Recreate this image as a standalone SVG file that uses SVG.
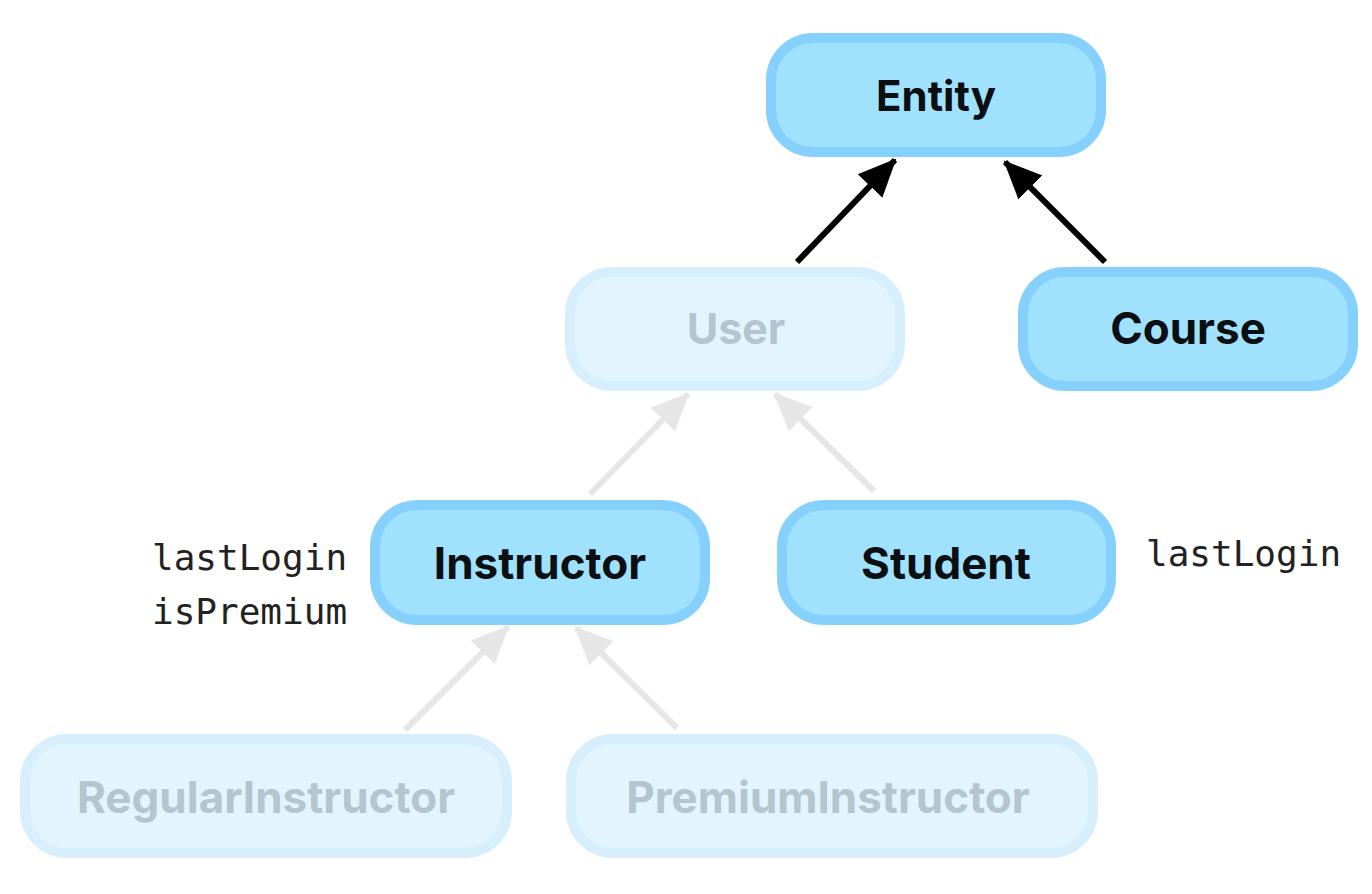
<svg xmlns="http://www.w3.org/2000/svg" width="1372" height="894" viewBox="0 0 1372 894">
<defs>
<marker id="hb" markerUnits="userSpaceOnUse" markerWidth="40" markerHeight="40" viewBox="0 0 40 40" refX="36" refY="20" orient="auto"><path d="M0,3 L38,20 L0,37 Z" fill="#000"/></marker>
<marker id="hg" markerUnits="userSpaceOnUse" markerWidth="40" markerHeight="40" viewBox="0 0 40 40" refX="36" refY="20" orient="auto"><path d="M0,3 L38,20 L0,37 Z" fill="#e6e6e6"/></marker>
</defs>
<style>
.on rect{fill:#a0e2fd;stroke:#85d0fc;stroke-width:10}
.off rect{fill:#e2f4fd;stroke:#d7effd;stroke-width:10}
.t{font-family:Inter,"Noto Sans",sans-serif;font-weight:700;text-anchor:middle;font-size:44px}
.on text{fill:#0b0f12}
.off text{fill:#b4c5d0}
.mono{font-family:"DejaVu Sans Mono","Liberation Mono",monospace;font-size:36px;fill:#222}
.cb{stroke:#000;stroke-width:6;fill:none;marker-end:url(#hb)}
.cg{stroke:#e6e6e6;stroke-width:6;fill:none;marker-end:url(#hg)}
</style>
<rect width="1372" height="894" fill="#fff"/>
<g id="connectors">
<line class="cb" x1="797" y1="262" x2="895" y2="160"/>
<line class="cb" x1="1105" y1="262" x2="1005" y2="162"/>
<line class="cg" x1="590" y1="494" x2="688" y2="394"/>
<line class="cg" x1="874" y1="491" x2="775" y2="394"/>
<line class="cg" x1="405" y1="730" x2="508" y2="627"/>
<line class="cg" x1="677" y1="728" x2="576" y2="628"/>
</g>
<g id="entity" class="on"><rect x="771" y="38" width="330" height="114" rx="42"/><text class="t" x="936" y="111" style="font-size:42px">Entity</text></g>
<g id="user" class="off"><rect x="570" y="272" width="330" height="114" rx="42"/><text class="t" x="736" y="344" style="font-size:43px">User</text></g>
<g id="course" class="on"><rect x="1023" y="272" width="330" height="114" rx="42"/><text class="t" x="1188" y="344">Course</text></g>
<g id="instructor" class="on"><rect x="375" y="505" width="330" height="115" rx="42"/><text class="t" x="540" y="579">Instructor</text></g>
<g id="student" class="on"><rect x="782" y="505" width="329" height="115" rx="42"/><text class="t" x="946" y="579">Student</text></g>
<g id="regularinstructor" class="off"><rect x="25" y="739" width="482" height="114" rx="42"/><text class="t" x="266" y="813">RegularInstructor</text></g>
<g id="premiuminstructor" class="off"><rect x="571" y="739" width="522" height="114" rx="42"/><text class="t" x="828" y="813">PremiumInstructor</text></g>
<g id="notes">
<text class="mono" x="152" y="570">lastLogin</text>
<text class="mono" x="152" y="624">isPremium</text>
<text class="mono" x="1146" y="566">lastLogin</text>
</g>
</svg>
